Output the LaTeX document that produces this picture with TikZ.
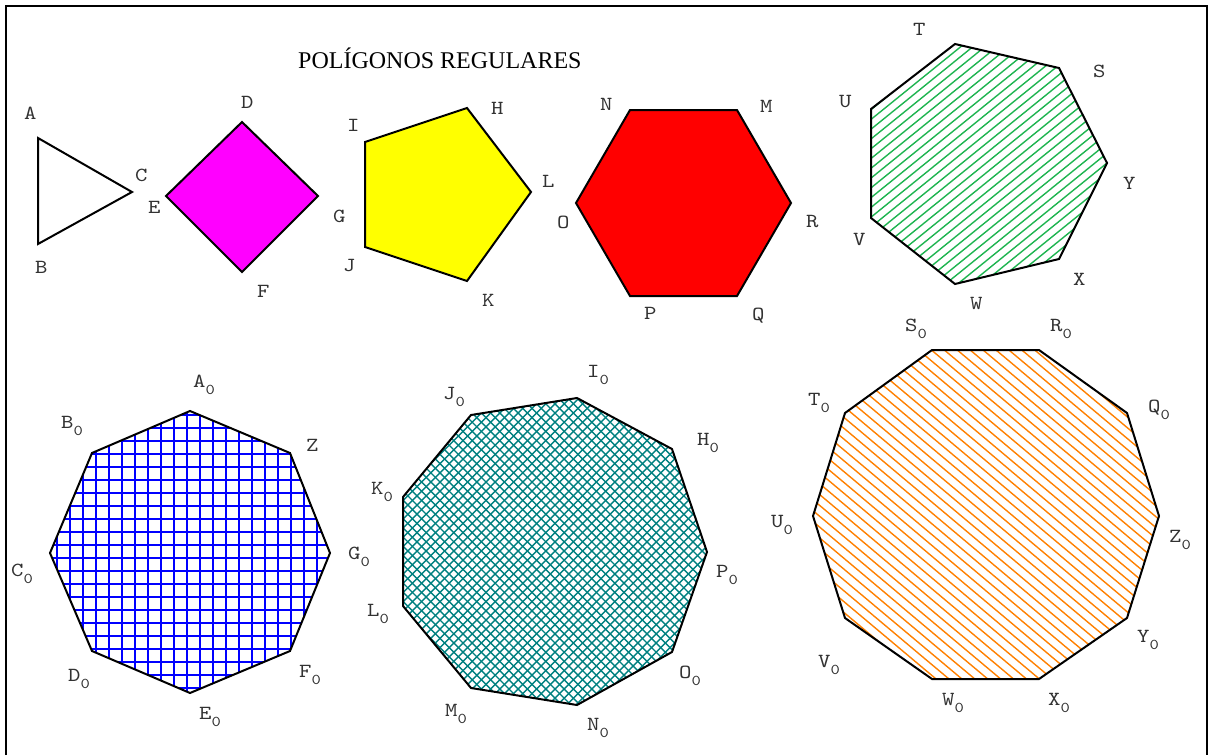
\documentclass[tikz,border=0pt]{standalone}
\usepackage{fontspec}
\newfontfamily\titlefont{Liberation Serif}
\newfontfamily\lblfont[FakeStretch=1.18]{lmmono10-regular.otf}
\definecolor{hgreen}{RGB}{30,180,80}
\definecolor{horange}{RGB}{255,128,0}
\definecolor{hteal}{RGB}{0,128,128}
\definecolor{hblue}{RGB}{0,0,255}
\definecolor{fmagenta}{RGB}{255,0,255}
\definecolor{fyellow}{RGB}{255,255,0}
\definecolor{fred}{RGB}{255,0,0}
\definecolor{lblgray}{RGB}{50,50,50}
\newcommand\zsub{\raisebox{-7pt}{\fontsize{15}{15}\selectfont 0}}
\tikzset{
  lbl/.style={anchor=base west, inner sep=0pt, font=\lblfont\fontsize{20}{24}\selectfont, text=lblgray},
  poly/.style={draw=black, line width=2pt, line join=miter},
  hatch/.style={line width=1.4pt},
  gridline/.style={line width=2pt, hblue},
}
\begin{document}
\begin{tikzpicture}[x=1pt,y=-1pt]
\useasboundingbox (0,0) rectangle (1212,755);
% frame
\draw[line width=1.2pt] (6,755) -- (6,6) -- (1207,6) -- (1207,755);
% title
\node[anchor=base west, inner sep=0pt, font=\titlefont\fontsize{24}{28}\selectfont] (title) at (298,68) {POLÍGONOS REGULARES};

% ---------- triangle
\coordinate (vA) at (38,138);
\coordinate (vB) at (38,244);
\coordinate (vC) at (132,192);
\draw[poly] (vA) -- (vB) -- (vC) -- cycle;
\node[lbl] (lA) at (24,119) {A};
\node[lbl] (lB) at (35,273) {B};
\node[lbl] (lC) at (135,181) {C};

% ---------- square
\coordinate (vD) at (242,122);
\coordinate (vE) at (166,196);
\coordinate (vF) at (242,272);
\coordinate (vG) at (318,196);
\draw[poly, fill=fmagenta] (vD) -- (vE) -- (vF) -- (vG) -- cycle;
\node[lbl] (lD) at (241,108) {D};
\node[lbl] (lE) at (148,213) {E};
\node[lbl] (lF) at (257,297) {F};
\node[lbl] (lG) at (333,222) {G};

% ---------- pentagon
\coordinate (vI) at (365,142);
\coordinate (vH) at (467,108);
\coordinate (vL) at (531,192);
\coordinate (vK) at (467,281);
\coordinate (vJ) at (365,247);
\draw[poly, fill=fyellow] (vI) -- (vH) -- (vL) -- (vK) -- (vJ) -- cycle;
\node[lbl] (lI) at (347,131) {I};
\node[lbl] (lH) at (491,114) {H};
\node[lbl] (lL) at (542,187) {L};
\node[lbl] (lK) at (482,306) {K};
\node[lbl] (lJ) at (343,271) {J};

% ---------- hexagon
\coordinate (vN) at (630,110);
\coordinate (vM) at (737,110);
\coordinate (vR) at (791,203);
\coordinate (vQ) at (737,296);
\coordinate (vP) at (630,296);
\coordinate (vO) at (576,203);
\draw[poly, fill=fred] (vN) -- (vM) -- (vR) -- (vQ) -- (vP) -- (vO) -- cycle;
\node[lbl] (lN) at (600,110) {N};
\node[lbl] (lM) at (760,112) {M};
\node[lbl] (lR) at (806,227) {R};
\node[lbl] (lQ) at (752,320) {Q};
\node[lbl] (lP) at (644,319) {P};
\node[lbl] (lO) at (557,228) {O};

% ---------- heptagon
\coordinate (vT) at (955,44);
\coordinate (vS) at (1059,68);
\coordinate (vY) at (1107,163);
\coordinate (vX) at (1059,259);
\coordinate (vW) at (955,284);
\coordinate (vV) at (871,218);
\coordinate (vU) at (871,109);
\begin{scope}
\clip (vT) -- (vS) -- (vY) -- (vX) -- (vW) -- (vV) -- (vU) -- cycle;
\foreach \k in {-25,...,25}
  \draw[hatch, hgreen] ({985+\k*7.6*sin(39)-200*cos(39)},{164+\k*7.6*cos(39)+200*sin(39)}) -- ({985+\k*7.6*sin(39)+200*cos(39)},{164+\k*7.6*cos(39)-200*sin(39)});
\end{scope}
\draw[poly] (vT) -- (vS) -- (vY) -- (vX) -- (vW) -- (vV) -- (vU) -- cycle;
\node[lbl] (lT) at (913,35) {T};
\node[lbl] (lS) at (1093,77) {S};
\node[lbl] (lY) at (1123,189) {Y};
\node[lbl] (lX) at (1073,285) {X};
\node[lbl] (lW) at (970,309) {W};
\node[lbl] (lV) at (853,245) {V};
\node[lbl] (lU) at (839,107) {U};

% ---------- octagon (grid)
\coordinate (vA0) at (190,411);
\coordinate (vZ) at (290,453);
\coordinate (vG0) at (330,553);
\coordinate (vF0) at (290,651);
\coordinate (vE0) at (190,693);
\coordinate (vD0) at (92,651);
\coordinate (vC0) at (50,553);
\coordinate (vB0) at (92,453);
\begin{scope}
\clip (vA0) -- (vZ) -- (vG0) -- (vF0) -- (vE0) -- (vD0) -- (vC0) -- (vB0) -- cycle;
\foreach \i in {-9,...,14}
  \draw[gridline] ({161+\i*13},400) -- ({161+\i*13},705);
\foreach \j in {-8,...,16}
  \draw[gridline] (40,{493+\j*13}) -- (340,{493+\j*13});
\end{scope}
\draw[poly] (vA0) -- (vZ) -- (vG0) -- (vF0) -- (vE0) -- (vD0) -- (vC0) -- (vB0) -- cycle;
\node[lbl] (lA0) at (193,387) {A\zsub};
\node[lbl] (lB0) at (61,428) {B\zsub};
\node[lbl] (lZ) at (306,451) {Z};
\node[lbl] (lG0) at (348,559) {G\zsub};
\node[lbl] (lC0) at (11,576) {C\zsub};
\node[lbl] (lF0) at (299,677) {F\zsub};
\node[lbl] (lD0) at (68,681) {D\zsub};
\node[lbl] (lE0) at (199,719) {E\zsub};

% ---------- nonagon (crosshatch)
\coordinate (vI0) at (577,398);
\coordinate (vH0) at (672,449);
\coordinate (vP0) at (707,552);
\coordinate (vO0) at (672,652);
\coordinate (vN0) at (577,705);
\coordinate (vM0) at (471,688);
\coordinate (vL0) at (403,606);
\coordinate (vK0) at (403,497);
\coordinate (vJ0) at (471,415);
\begin{scope}
\clip (vI0) -- (vH0) -- (vP0) -- (vO0) -- (vN0) -- (vM0) -- (vL0) -- (vK0) -- (vJ0) -- cycle;
\foreach \k in {-40,...,40}{
  \draw[hatch, hteal] ({555+\k*9.2-200},{551-200}) -- ({555+\k*9.2+200},{551+200});
  \draw[hatch, hteal] ({555+\k*9.2+200},{551-200}) -- ({555+\k*9.2-200},{551+200});
}
\end{scope}
\draw[poly] (vI0) -- (vH0) -- (vP0) -- (vO0) -- (vN0) -- (vM0) -- (vL0) -- (vK0) -- (vJ0) -- cycle;
\node[lbl] (lI0) at (587,377) {I\zsub};
\node[lbl] (lJ0) at (443,399) {J\zsub};
\node[lbl] (lH0) at (697,445) {H\zsub};
\node[lbl] (lK0) at (371,494) {K\zsub};
\node[lbl] (lP0) at (716,577) {P\zsub};
\node[lbl] (lL0) at (367,616) {L\zsub};
\node[lbl] (lO0) at (679,678) {O\zsub};
\node[lbl] (lM0) at (445,716) {M\zsub};
\node[lbl] (lN0) at (587,730) {N\zsub};

% ---------- decagon (orange hatch)
\coordinate (vS0) at (932,350);
\coordinate (vR0) at (1039,350);
\coordinate (vQ0) at (1127,413);
\coordinate (vZ0) at (1159,516);
\coordinate (vY0) at (1127,618);
\coordinate (vX0) at (1039,679);
\coordinate (vW0) at (932,679);
\coordinate (vV0) at (845,618);
\coordinate (vU0) at (813,516);
\coordinate (vT0) at (845,413);
\begin{scope}
\clip (vS0) -- (vR0) -- (vQ0) -- (vZ0) -- (vY0) -- (vX0) -- (vW0) -- (vV0) -- (vU0) -- (vT0) -- cycle;
\foreach \k in {-30,...,30}
  \draw[hatch, horange] ({986+\k*8.3*sin(40)-230*cos(40)},{515-\k*8.3*cos(40)-230*sin(40)}) -- ({986+\k*8.3*sin(40)+230*cos(40)},{515-\k*8.3*cos(40)+230*sin(40)});
\end{scope}
\draw[poly] (vS0) -- (vR0) -- (vQ0) -- (vZ0) -- (vY0) -- (vX0) -- (vW0) -- (vV0) -- (vU0) -- (vT0) -- cycle;
\node[lbl] (lS0) at (905,331) {S\zsub};
\node[lbl] (lR0) at (1050,331) {R\zsub};
\node[lbl] (lT0) at (808,405) {T\zsub};
\node[lbl] (lQ0) at (1148,412) {Q\zsub};
\node[lbl] (lU0) at (771,527) {U\zsub};
\node[lbl] (lZ0) at (1169,542) {Z\zsub};
\node[lbl] (lY0) at (1137,642) {Y\zsub};
\node[lbl] (lV0) at (818,667) {V\zsub};
\node[lbl] (lW0) at (942,705) {W\zsub};
\node[lbl] (lX0) at (1048,705) {X\zsub};
\end{tikzpicture}
\end{document}
